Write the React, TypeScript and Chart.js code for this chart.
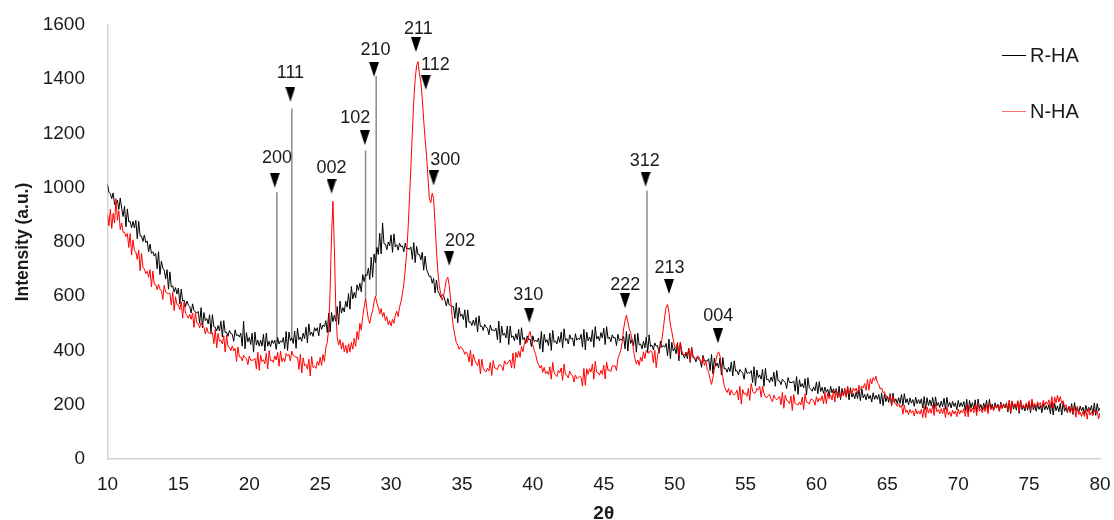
import React, { useEffect, useRef } from "react";
import { Chart, registerables } from "chart.js";

Chart.register(...registerables);

// 2θ grid: first angle and step of the scan (degrees)
const thetaStart = 10;
const thetaStep = 0.1;

// R-HA intensities (a.u.), one row per degree, 10.0 … 80.0
const rHA: number[] = [
  1012, 984, 978, 960, 981, 938, 942, 954, 920, 962,
  924, 894, 932, 856, 922, 874, 876, 852, 876, 852,
  880, 812, 876, 822, 822, 802, 826, 798, 804, 764,
  792, 758, 764, 748, 758, 702, 764, 680, 730, 704,
  696, 664, 698, 626, 690, 634, 638, 616, 632, 608,
  630, 572, 626, 582, 586, 562, 582, 568, 562, 538,
  572, 548, 542, 538, 544, 500, 558, 484, 540, 510,
  518, 498, 532, 466, 532, 488, 486, 472, 492, 472,
  508, 450, 510, 466, 468, 452, 474, 462, 460, 434,
  476, 454, 458, 450, 464, 416, 508, 406, 466, 432,
  448, 422, 464, 394, 468, 420, 438, 416, 438, 416,
  460, 398, 464, 416, 434, 414, 438, 426, 438, 404,
  448, 424, 436, 430, 448, 406, 470, 400, 468, 436,
  446, 426, 472, 408, 482, 440, 450, 434, 464, 444,
  486, 428, 498, 456, 468, 452, 484, 472, 484, 454,
  500, 478, 494, 488, 510, 466, 538, 468, 540, 506,
  530, 508, 562, 496, 582, 538, 558, 542, 582, 560,
  610, 552, 636, 590, 614, 594, 642, 622, 648, 616,
  680, 654, 680, 676, 704, 662, 744, 670, 756, 724,
  780, 754, 832, 756, 870, 794, 792, 772, 800, 786,
  826, 762, 830, 782, 790, 770, 796, 782, 786, 764,
  796, 774, 778, 772, 782, 736, 798, 724, 784, 754,
  754, 734, 762, 696, 748, 700, 686, 672, 674, 648,
  666, 612, 660, 620, 610, 596, 606, 602, 586, 564,
  592, 568, 566, 562, 562, 518, 576, 502, 558, 526,
  534, 514, 550, 484, 550, 504, 506, 492, 512, 492,
  522, 468, 528, 488, 490, 474, 496, 486, 482, 458,
  494, 474, 476, 472, 482, 440, 508, 428, 490, 456,
  464, 446, 490, 422, 490, 448, 454, 436, 462, 440,
  478, 420, 484, 440, 448, 426, 454, 440, 442, 414,
  454, 432, 438, 432, 446, 406, 470, 394, 460, 430,
  440, 418, 464, 400, 474, 430, 436, 424, 452, 430,
  468, 410, 480, 436, 444, 424, 458, 442, 446, 416,
  462, 438, 446, 440, 460, 412, 478, 402, 468, 436,
  450, 432, 476, 412, 488, 442, 452, 436, 466, 446,
  482, 422, 488, 444, 450, 432, 458, 446, 448, 418,
  460, 436, 442, 438, 452, 406, 470, 398, 460, 426,
  440, 418, 460, 394, 464, 420, 424, 406, 434, 410,
  450, 392, 458, 414, 420, 402, 428, 416, 418, 390,
  434, 412, 418, 412, 426, 380, 442, 370, 430, 398,
  410, 388, 426, 362, 430, 384, 386, 372, 394, 370,
  408, 356, 412, 374, 374, 358, 376, 368, 362, 338,
  382, 362, 362, 360, 370, 326, 386, 314, 372, 342,
  354, 336, 372, 310, 374, 332, 334, 320, 338, 322,
  358, 306, 362, 324, 326, 310, 330, 322, 318, 294,
  336, 316, 318, 316, 326, 282, 340, 270, 328, 300,
  310, 294, 330, 268, 334, 292, 294, 282, 302, 286,
  320, 268, 326, 288, 288, 274, 294, 288, 282, 260,
  300, 282, 282, 282, 288, 250, 304, 238, 292, 266,
  278, 262, 296, 236, 300, 262, 258, 250, 266, 252,
  284, 241, 285, 249, 264, 242, 265, 246, 257, 232,
  268, 244, 259, 242, 260, 225, 268, 219, 260, 233,
  254, 231, 261, 218, 263, 228, 242, 222, 246, 223,
  256, 215, 259, 225, 238, 218, 241, 222, 235, 210,
  244, 220, 235, 220, 238, 203, 244, 197, 240, 211,
  232, 209, 241, 196, 243, 208, 222, 204, 226, 205,
  238, 197, 241, 207, 222, 200, 225, 206, 219, 194,
  228, 204, 219, 204, 222, 188, 230, 183, 226, 197,
  218, 196, 227, 184, 229, 196, 208, 190, 213, 193,
  224, 183, 227, 193, 209, 188, 213, 194, 207, 182,
  216, 192, 208, 193, 212, 178, 220, 173, 216, 188,
  208, 185, 218, 173, 221, 186, 201, 181, 206, 184,
  216, 175, 220, 188, 202, 181, 207, 188, 202, 176,
  210, 187, 203, 188, 207, 173, 214, 168, 212, 184,
  202, 180, 213, 168, 214, 182, 196, 177, 202, 180,
  210, 170, 215, 181, 197, 176, 201, 183, 197, 171,
  204, 181, 197, 182, 201, 167, 210, 162, 206, 178,
  196, 174, 205, 162, 209, 176, 190, 171, 195, 174,
  204, 164, 208, 178, 191, 170, 195, 178, 191, 166,
  198, 176, 191, 179, 197, 164, 207, 161, 204, 177,
  188,
];

// N-HA intensities (a.u.), one row per degree, 10.0 … 80.0
const nHA: number[] = [
  900, 860, 920, 850, 905, 870, 960, 880, 915, 845,
  870, 836, 836, 820, 831, 780, 831, 752, 808, 769,
  763, 736, 770, 694, 758, 707, 700, 684, 692, 670,
  698, 635, 693, 644, 644, 624, 644, 625, 621, 588,
  640, 616, 611, 610, 611, 568, 616, 547, 598, 569,
  568, 551, 580, 519, 578, 537, 530, 519, 534, 515,
  538, 485, 540, 502, 499, 484, 502, 492, 486, 461,
  485, 466, 464, 462, 466, 425, 478, 410, 463, 434,
  438, 424, 455, 394, 458, 414, 412, 399, 417, 398,
  408, 360, 413, 376, 376, 362, 382, 375, 371, 348,
  380, 364, 364, 365, 371, 332, 394, 327, 383, 359,
  366, 351, 390, 332, 400, 362, 365, 356, 380, 365,
  393, 342, 398, 359, 372, 359, 389, 380, 386, 361,
  398, 381, 378, 375, 376, 330, 386, 317, 373, 344,
  348, 331, 368, 306, 378, 337, 342, 334, 360, 345,
  375, 345, 385, 360, 410, 430, 480, 620, 820, 950,
  780, 560, 450, 420, 440, 405, 430, 395, 420, 390,
  425, 395, 430, 405, 445, 415, 470, 440, 500, 475,
  525, 560, 590, 550, 515, 500, 530, 545, 580, 600,
  575, 560, 535, 555, 525, 540, 510, 525, 495, 510,
  490, 515, 500, 530, 545, 525, 560, 580, 610, 645,
  700, 760, 850, 960, 1080, 1200, 1320, 1400, 1450, 1465,
  1420, 1390, 1330, 1250, 1180, 1120, 1040, 960, 945, 980,
  960, 870, 770, 690, 640, 610, 585, 600, 630, 660,
  670, 640, 590, 530, 485, 455, 430, 420, 405, 415,
  410, 401, 386, 395, 388, 358, 401, 342, 386, 366,
  353, 344, 368, 314, 368, 334, 325, 322, 334, 325,
  356, 308, 363, 336, 334, 329, 346, 348, 341, 326,
  362, 351, 351, 360, 366, 335, 391, 334, 393, 374,
  398, 375, 415, 395, 425, 440, 430, 455, 470, 445,
  420, 400, 385, 360, 348, 335, 345, 320, 338, 315,
  323, 311, 340, 294, 356, 317, 310, 304, 327, 318,
  336, 290, 350, 312, 309, 299, 324, 312, 308, 284,
  310, 296, 301, 305, 301, 268, 334, 272, 333, 312,
  333, 321, 350, 294, 360, 320, 318, 309, 327, 312,
  346, 295, 358, 326, 329, 322, 344, 342, 344, 326,
  370, 385, 400, 430, 480, 510, 530, 505, 480, 465,
  440, 400, 370, 350, 365, 345, 375, 360, 395, 370,
  400, 391, 391, 400, 394, 355, 401, 337, 383, 404,
  410, 440, 480, 525, 560, 570, 540, 495, 470, 440,
  413, 411, 430, 379, 430, 400, 385, 384, 392, 385,
  406, 360, 410, 379, 374, 366, 379, 378, 366, 351,
  375, 345, 360, 330, 320, 295, 275, 300, 330, 360,
  385, 395, 380, 340, 300, 270, 255, 245, 260, 235,
  255, 241, 236, 242, 254, 218, 268, 202, 256, 239,
  243, 231, 260, 216, 278, 250, 242, 244, 260, 255,
  268, 228, 268, 242, 229, 226, 234, 238, 221, 211,
  235, 224, 218, 225, 231, 200, 246, 187, 236, 216,
  213, 204, 232, 179, 238, 204, 202, 199, 210, 200,
  228, 182, 240, 209, 209, 202, 220, 220, 214, 198,
  230, 210, 225, 215, 233, 203, 246, 203, 244, 222,
  236, 218, 250, 210, 257, 228, 240, 227, 248, 233,
  262, 227, 269, 242, 254, 240, 262, 250, 261, 240,
  272, 256, 268, 262, 278, 253, 293, 253, 296, 277,
  300, 290, 305, 280, 275, 258, 262, 245, 248, 230,
  232, 218, 235, 197, 231, 206, 205, 194, 204, 190,
  199, 165, 199, 172, 180, 164, 183, 170, 178, 158,
  185, 166, 177, 166, 183, 153, 194, 151, 192, 169,
  186, 168, 199, 160, 204, 174, 182, 167, 186, 167,
  189, 153, 193, 162, 174, 157, 180, 166, 177, 156,
  184, 166, 179, 170, 186, 157, 198, 155, 196, 173,
  188, 171, 200, 160, 205, 176, 185, 170, 192, 175,
  202, 167, 209, 181, 194, 178, 200, 187, 197, 176,
  205, 186, 199, 190, 206, 177, 217, 174, 214, 191,
  204, 187, 215, 175, 218, 188, 200, 186, 207, 190,
  215, 180, 221, 193, 205, 189, 211, 198, 208, 187,
  216, 198, 211, 202, 218, 189, 230, 187, 229, 207,
  235, 210, 230, 205, 215, 190, 200, 175, 195, 170,
  186, 171, 193, 154, 194, 164, 172, 157, 176, 157,
  182, 147, 189, 162, 174, 160, 181, 170, 178, 148,
  170,
];

const seriesNames = ["R-HA", "N-HA"];
const seriesColors = ["#000000", "#ff0000"];
const legendLineColors = ["#000000", "#ff7070"];

// Miller-index markers (triangle position and label position, in data units)
const peakLabels = ["200", "111", "002", "102", "210", "211", "112", "300", "202", "310", "222", "213", "312", "004"];
const markerX = [21.8, 22.9, 25.8, 28.15, 28.8, 31.75, 32.45, 33.0, 34.1, 39.75, 46.5, 49.6, 47.95, 53.05];
const markerY = [1028, 1345, 1006, 1185, 1437, 1528, 1389, 1036, 740, 530, 584, 636, 1032, 454];
const labelX = [21.95, 22.9, 25.8, 27.47, 28.9, 31.93, 33.13, 33.82, 34.87, 39.68, 46.52, 49.63, 47.9, 53.08];
const labelY = [1108, 1422, 1074, 1256, 1508, 1585, 1452, 1103, 804, 605, 643, 704, 1097, 527];

// Reference drop lines
const dropX = [21.95, 23.0, 28.2, 28.95, 48.05];
const dropTop = [983, 1292, 1137, 1411, 989];
const dropBottom = [430, 440, 580, 600, 450];

const xMin = 10;
const xMax = 80;
const xTickStep = 5;
const yMin = 0;
const yMax = 1600;
const yTickStep = 200;

const FONT = "'Liberation Sans', Arial, Helvetica, sans-serif";
const TEXT = "#1a1a1a";

function toPoints(values: number[]) {
  return values.map((y, i) => ({ x: Math.round((thetaStart + i * thetaStep) * 10) / 10, y }));
}

function makeTriangle(): HTMLCanvasElement {
  const c = document.createElement("canvas");
  c.width = 10;
  c.height = 15;
  const g = c.getContext("2d")!;
  g.fillStyle = "#000";
  g.beginPath();
  g.moveTo(0, 0);
  g.lineTo(10, 0);
  g.lineTo(5, 15);
  g.closePath();
  g.fill();
  return c;
}

export default function App() {
  const ref = useRef<HTMLCanvasElement | null>(null);

  useEffect(() => {
    if (!ref.current) return;
    const tri = makeTriangle();

    const annotate = {
      id: "annotate",
      afterDatasetsDraw(chart: any) {
        const { ctx, scales } = chart;
        const xs = scales.x;
        const ys = scales.y;
        ctx.save();
        ctx.fillStyle = TEXT;
        ctx.font = `18px ${FONT}`;
        ctx.textAlign = "center";
        ctx.textBaseline = "middle";
        peakLabels.forEach((t, i) => {
          ctx.fillText(t, xs.getPixelForValue(labelX[i]), ys.getPixelForValue(labelY[i]));
        });
        // legend
        const lx0 = 1002;
        const lx1 = 1026;
        const ly = [55, 111];
        ctx.font = `20px ${FONT}`;
        ctx.textAlign = "left";
        seriesNames.forEach((n, i) => {
          ctx.strokeStyle = legendLineColors[i];
          ctx.lineWidth = 1;
          ctx.beginPath();
          ctx.moveTo(lx0, ly[i] + 0.5);
          ctx.lineTo(lx1, ly[i] + 0.5);
          ctx.stroke();
          ctx.fillStyle = TEXT;
          ctx.fillText(n, lx1 + 4, ly[i] + 1);
        });
        ctx.restore();
      },
    };

    const dropSets = dropX.map((x, i) => ({
      type: "line" as const,
      label: "drop" + i,
      data: [
        { x, y: dropBottom[i] },
        { x, y: dropTop[i] },
      ],
      borderColor: "#8a8a8a",
      borderWidth: 1.5,
      pointRadius: 0,
      order: 5,
    }));

    const chart = new Chart(ref.current, {
      type: "line",
      data: {
        datasets: [
          ...dropSets,
          {
            label: seriesNames[0],
            data: toPoints(rHA),
            borderColor: seriesColors[0],
            borderWidth: 1,
            pointRadius: 0,
            order: 3,
          },
          {
            label: seriesNames[1],
            data: toPoints(nHA),
            borderColor: seriesColors[1],
            borderWidth: 1,
            pointRadius: 0,
            order: 2,
          },
          {
            label: "markers",
            data: markerX.map((x, i) => ({ x, y: markerY[i] })),
            showLine: false,
            pointStyle: tri as any,
            pointRadius: 6,
            order: 1,
          },
        ] as any,
      },
      options: {
        animation: false,
        responsive: true,
        maintainAspectRatio: false,
        layout: { autoPadding: false, padding: { left: 0, top: 25, right: 14, bottom: 0 } },
        plugins: { legend: { display: false }, tooltip: { enabled: false } },
        events: [],
        scales: {
          x: {
            type: "linear",
            min: xMin,
            max: xMax,
            grid: { display: false, drawTicks: false },
            border: { display: true, color: "#d4d4d4", width: 1.5 },
            ticks: {
              stepSize: xTickStep,
              padding: 14.6,
              color: TEXT,
              font: { family: FONT, size: 19, lineHeight: 1.2 },
              maxRotation: 0,
              callback: (v: any) => String(v),
            },
            title: {
              display: true,
              text: "2θ",
              color: TEXT,
              font: { family: FONT, size: 19, weight: "bold", lineHeight: 1 },
              padding: { top: 0, bottom: -3.5 },
            },
            afterFit(s: any) {
              s.height = 61;
              s.paddingLeft = 0;
              s.paddingRight = 0;
            },
          },
          y: {
            type: "linear",
            min: yMin,
            max: yMax,
            grid: { display: false, drawTicks: false },
            border: { display: true, color: "#d4d4d4", width: 1.5 },
            ticks: {
              stepSize: yTickStep,
              padding: 22.5,
              color: TEXT,
              font: { family: FONT, size: 19, lineHeight: 1.2 },
              callback: (v: any) => String(v),
            },
            title: {
              display: true,
              text: "Intensity (a.u.)",
              color: TEXT,
              font: { family: FONT, size: 17.5, weight: "bold", lineHeight: 1.2 },
              padding: { top: 12.5, bottom: 0 },
            },
            afterFit(s: any) {
              s.width = 107.5;
              s.paddingTop = 0;
              s.paddingBottom = 0;
            },
          },
        },
      },
      plugins: [annotate],
    });
    return () => chart.destroy();
  }, []);

  return (
    <div style={{ position: "fixed", left: 0, top: 0, width: 1114, height: 520, background: "#fff" }}>
      <canvas ref={ref} />
    </div>
  );
}
